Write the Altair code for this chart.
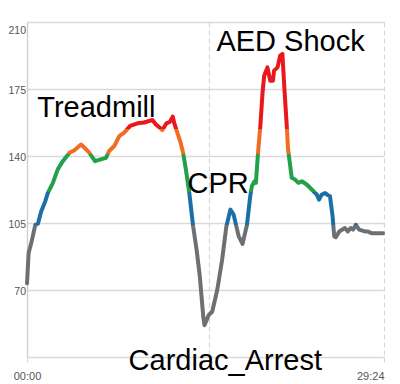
import altair as alt
import pandas as pd

# --- data ---
seconds = [0, 8, 21, 32, 41, 54, 70, 90, 103, 128, 152, 177, 210, 234, 267, 292, 308, 336, 365, 390,
           406, 431, 456, 480, 510, 546, 578, 620, 636, 669, 689, 706, 720, 729, 759, 772, 785, 802,
           821, 838, 854, 871, 877, 898, 915, 940, 964, 985, 1005, 1021, 1046, 1065, 1087, 1103, 1111,
           1124, 1131, 1141, 1153, 1164, 1172, 1188, 1202, 1215, 1221, 1238, 1251, 1262, 1272, 1284,
           1290, 1308, 1325, 1341, 1358, 1382, 1407, 1432, 1443, 1456, 1472, 1483, 1497, 1510, 1518,
           1526, 1543, 1571, 1585, 1599, 1611, 1625, 1641, 1669, 1685, 1702, 1727, 1759]
heart_rate = [73.5, 89.3, 94.5, 99.7, 104, 104.6, 111, 116.3, 120.7, 126, 133, 137.3, 141.7, 143, 146,
              143.5, 141.7, 137.3, 138.2, 139, 142.6, 145.2, 150.4, 152.2, 155.7, 157.1, 157.5, 158.8,
              156.6, 153.6, 157.1, 157.8, 160.6, 156.6, 147, 141.3, 133, 120.7, 103.2, 91, 77, 56, 51.6,
              56.9, 58.6, 70, 85.7, 103.2, 112, 109.4, 98, 94.1, 104.1, 119, 124.2, 126.8, 126, 140.8,
              155.7, 173.2, 181.9, 186.3, 179.3, 179.3, 184.6, 186.3, 192.4, 193.3, 175, 154.9, 143.5,
              128.6, 127.7, 126, 126.8, 125.1, 122.5, 119.8, 117.2, 119.8, 120.7, 119.8, 119, 108.5, 98,
              97.6, 100.6, 102.4, 100.6, 102.4, 101.5, 104.1, 101.5, 100.6, 100.6, 99.7, 99.7, 99.7]

zone_limits = [104, 121, 141, 154]
zone_colors = ["#6d6f72", "#1a6fa6", "#22a04a", "#f26b22", "#e8181d"]

y_ticks = [35, 70, 105, 140, 175, 210]
x_ticks = [0, 900, 1764]
x_tick_labels = ["00:00", "", "29:24"]

notes = ["Treadmill", "CPR", "AED Shock", "Cardiac_Arrest"]
note_seconds = [51, 793, 936, 502]
note_values = [160.6, 120.7, 195, 28]

df = pd.DataFrame({"t": seconds, "hr": heart_rate})
notes_df = pd.DataFrame({"label": notes, "t": note_seconds, "hr": note_values})

vmin, vmax = min(heart_rate), max(heart_rate)
def off(v):
    return (v - vmin) / (vmax - vmin)

stops = [alt.GradientStop(color=zone_colors[0], offset=0)]
for i, lim in enumerate(zone_limits):
    stops.append(alt.GradientStop(color=zone_colors[i], offset=off(lim)))
    stops.append(alt.GradientStop(color=zone_colors[i + 1], offset=off(lim)))
stops.append(alt.GradientStop(color=zone_colors[-1], offset=1))

x_label_expr = " : ".join(
    f"datum.value == {v} ? '{l}'" for v, l in zip(x_ticks, x_tick_labels)
) + " : ''"

x_enc = alt.X(
    "t:Q",
    scale=alt.Scale(domain=[0, 1764], nice=False, zero=False),
    axis=alt.Axis(
        title=None, values=x_ticks, labelExpr=x_label_expr, grid=True,
        gridDash=[5, 3], gridColor="#d6d6d6", gridWidth=1.2,
        domain=False, ticks=True, tickSize=5, tickColor="#d6d6d6", tickDash=[5, 3],
        labelFont="Liberation Sans", labelFontSize=11, labelColor="#555555",
        labelPadding=8, labelBaseline="top",
        labelAlign={"condition": {"test": "datum.value == 1764", "value": "right"}, "value": "center"},
    ),
)
y_enc = alt.Y(
    "hr:Q",
    scale=alt.Scale(domain=[35, 210], nice=False, zero=False),
    axis=alt.Axis(
        title=None, values=y_ticks, labelExpr="datum.value == 35 ? '' : datum.label",
        grid=True, gridColor="#d9d9d9", gridWidth=1.3,
        domain=True, domainColor="#cfcfcf", domainWidth=1.3, ticks=False,
        labelFont="Liberation Sans", labelFontSize=10.5, labelColor="#555555",
        labelPadding=1.5,
        labelOffset={"condition": {"test": "datum.value == 210", "value": 8}, "value": 1.5},
    ),
)

line = alt.Chart(df).mark_line(
    strokeWidth=4, strokeCap="round", strokeJoin="round",
    color=alt.Gradient(gradient="linear", stops=stops, x1=0, x2=0, y1=1, y2=0),
).encode(x=x_enc, y=y_enc)

text = alt.Chart(notes_df).mark_text(
    font="Liberation Sans", fontSize=29, color="black", align="left", baseline="alphabetic"
).encode(x="t:Q", y="hr:Q", text="label:N")

chart = alt.layer(line, text).properties(
    width=357, height=335,
    autosize=alt.AutoSizeParams(type="none"),
    padding={"left": 19, "top": 14, "right": 4, "bottom": 24},
).configure_view(stroke=None)

chart.save("out.html", embed_options={"renderer": "svg", "actions": False})
